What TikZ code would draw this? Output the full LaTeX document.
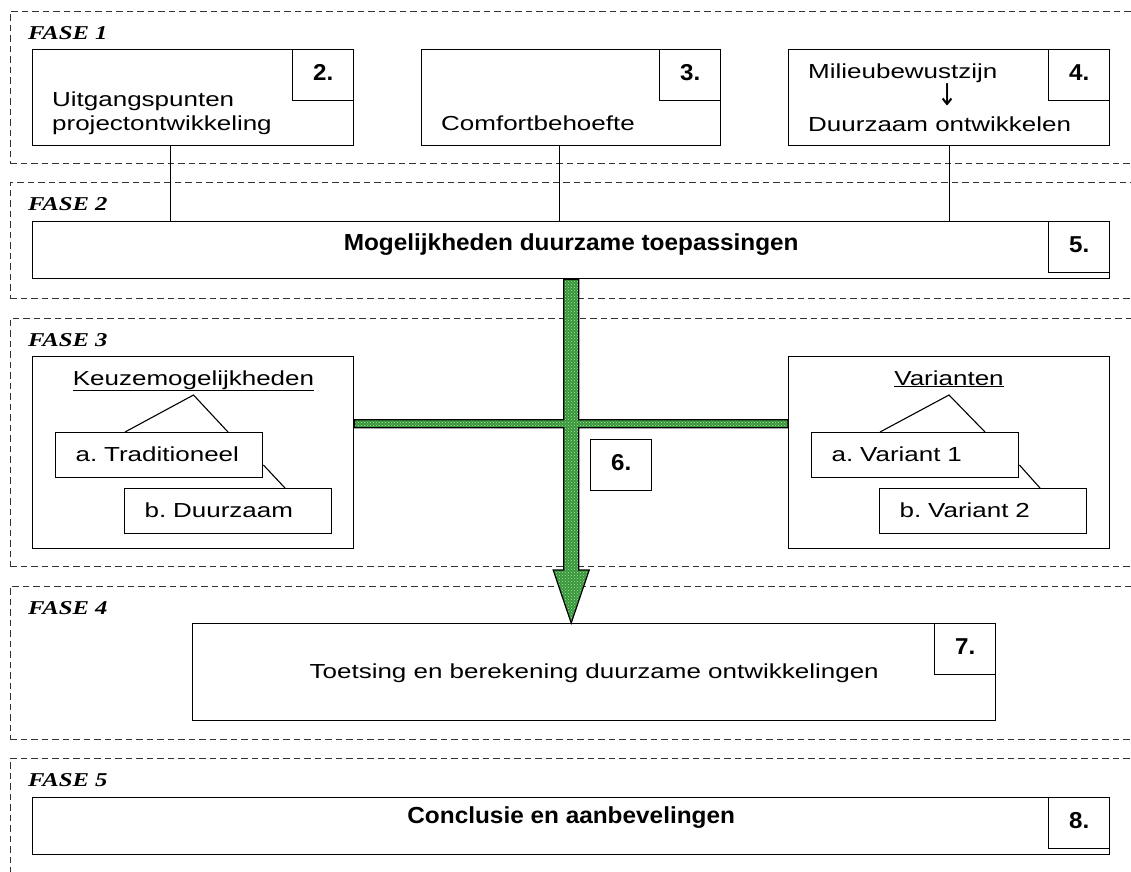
\documentclass[tikz,border=0pt]{standalone}
\usepackage{fontspec}
\setmainfont{Liberation Sans}[FakeStretch=1.28]
\newfontfamily\hdfamily{Liberation Sans}[FakeStretch=1.05]
\newfontfamily\fasefamily{Liberation Serif}[FakeStretch=1.26]
\newfontfamily\arrowfamily{DejaVu Sans}[FakeStretch=0.8]
\usetikzlibrary{patterns, calc}
\definecolor{arrowgreen}{RGB}{55,150,55}
\definecolor{dotgreen}{RGB}{175,225,175}
\tikzset{phase/.style={ % dashed frame round one phase
draw=black!80, line width=0.9pt, dash pattern=on 6.5pt off 4pt,
anchor=north west, inner sep=0pt, minimum width=1130pt},
phasetitle/.style={anchor=base west, inner sep=0pt,
font=\fasefamily\bfseries\itshape\fontsize{19.6}{22}\selectfont},
block/.style={draw, line width=1.4pt, anchor=north west, inner sep=0pt},
numbox/.style={ % the small numbered box in a corner
draw, line width=1.4pt, minimum width=61pt, minimum height=51pt,
inner sep=0pt, text height=11pt, text depth=0pt,
font=\hdfamily\bfseries\fontsize{23}{26}\selectfont},
linetext/.style={anchor=base west, inner sep=0pt, font=\fontsize{20.3}{24}\selectfont},
boldtitle/.style={font=\hdfamily\bfseries\fontsize{23.2}{26}\selectfont},
choice/.style={draw, line width=1.4pt, anchor=north west,
inner xsep=20pt, inner ysep=0pt, text width=167pt, align=left,
minimum height=45pt, text height=12pt, text depth=0pt,
font=\fontsize{20.3}{24}\selectfont},
greenarrow/.style={draw, line width=1.2pt, preaction={fill=arrowgreen},
pattern=crosshatch dots, pattern color=dotgreen},
connector/.style={draw, line width=1.1pt}}

\begin{document}
\frenchspacing
\begin{tikzpicture}[x=1pt, y=-1pt]
    \clip (0,0) rectangle (1131,871);
    \fill[white] (0,0) rectangle (1131,871);
    % phases
    \node[phase, minimum height=152pt] (f1) at (10,11) {};
    \node[phase, minimum height=116pt] (f2) at (10,182) {};
    \node[phase, minimum height=248pt] (f3) at (10,318) {};
    \node[phase, minimum height=153pt] (f4) at (10,586) {};
    \node[phase, minimum height=130pt] (f5) at (10,758) {};
    \foreach \f in {1,...,5}
        \node[phasetitle] (l\f) at ([xshift=18pt, yshift=-28pt]f\f.north west) {FASE \f};
    % fase 1
    \node[block, minimum width=321pt, minimum height=96pt] (b2) at (32,49) {};
    \node[numbox, anchor=north east] (n2) at (b2.north east) {2.};
    \node[linetext] (t2a) at (52,106) {Uitgangspunten};
    \node[linetext] (t2b) at (52,130) {projectontwikkeling};
    \node[block, minimum width=299pt, minimum height=96pt] (b3) at (421,49) {};
    \node[numbox, anchor=north east] (n3) at (b3.north east) {3.};
    \node[linetext] (t3) at (441,130) {Comfortbehoefte};
    \node[block, minimum width=321pt, minimum height=96pt] (b4) at (788,49) {};
    \node[numbox, anchor=north east] (n4) at (b4.north east) {4.};
    \node[linetext] (t4a) at (808,78) {Milieubewustzijn};
    \node[linetext, anchor=base, font=\arrowfamily\fontsize{30}{30}\selectfont] (t4b) at (948,105) {↓};
    \node[linetext] (t4c) at (808,131) {Duurzaam ontwikkelen};
    % fase 2
    \node[block, boldtitle, minimum width=1077pt, minimum height=57pt,
        text height=7pt, text depth=6pt] (b5) at (32,221) {Mogelijkheden duurzame toepassingen};
    \node[numbox, anchor=north east] (n5) at (b5.north east) {5.};
    \foreach \b/\dx in {b2/-22.5, b3/-11.5, b4/0.5}
        \draw[connector] (\b.south) ++(\dx,0) coordinate (c\b) -- (c\b |- b5.north);
    % fase 3
    \node[block, minimum width=321pt, minimum height=192pt] (k3) at (32,356) {};
    \node[block, minimum width=321pt, minimum height=192pt] (v3) at (788,356) {};
    \node[linetext, anchor=base] (kt) at (193.5,385) {\underline{Keuzemogelijkheden}};
    \node[linetext, anchor=base] (vt) at (949,385) {\underline{Varianten}};
    \node[choice] (ka) at (55,432) {a. Traditioneel};
    \node[choice] (kb) at (124,488) {b. Duurzaam};
    \node[choice] (va) at (811,432) {a. Variant 1};
    \node[choice] (vb) at (879,488) {b. Variant 2};
    \draw[connector] ([xshift=70pt]ka.north west) -- ([yshift=-10pt]kt.base) -- ([xshift=173pt]ka.north west);
    \draw[connector] ([yshift=-33pt]ka.north east) -- ([xshift=161pt]kb.north west);
    \draw[connector] ([xshift=69pt]va.north west) -- ([yshift=-10pt]vt.base) -- ([xshift=174pt]va.north west);
    \draw[connector] ([yshift=-33pt]va.north east) -- ([xshift=161pt]vb.north west);
    % fase 4
    \node[block, minimum width=803pt, minimum height=97pt, font=\fontsize{20.3}{24}\selectfont,
        text height=13pt, text depth=0pt] (b7) at (192,623) {Toetsing en berekening duurzame ontwikkelingen};
    \node[numbox, anchor=north east] (n7) at (b7.north east) {7.};
    % arrow from 5 to 7, crossing the two fase 3 blocks
    \path[greenarrow] let \p1=(b5.south), \p2=(b7.north), \p3=([yshift=29pt]k3.east), \p4=(v3.west) in
        (\x1-7.5pt,\y1) -- (\x1+7.5pt,\y1) -- (\x1+7.5pt,\y3+4pt) -- (\x4,\y3+4pt)
        -- (\x4,\y3-4pt) -- (\x1+7.5pt,\y3-4pt) -- (\x1+7.5pt,\y2+53pt) -- (\x1+18pt,\y2+53pt)
        -- (\x1,\y2) -- (\x1-18pt,\y2+53pt) -- (\x1-7.5pt,\y2+53pt) -- (\x1-7.5pt,\y3-4pt)
        -- (\x3,\y3-4pt) -- (\x3,\y3+4pt) -- (\x1-7.5pt,\y3+4pt) -- cycle;
    \node[numbox, anchor=north west] (n6) at (590,439) {6.};
    % fase 5
    \node[block, boldtitle, minimum width=1077pt, minimum height=57pt,
        text height=5pt, text depth=10pt] (b8) at (32,797) {Conclusie en aanbevelingen};
    \node[numbox, anchor=north east] (n8) at (b8.north east) {8.};
\end{tikzpicture}
\end{document}
